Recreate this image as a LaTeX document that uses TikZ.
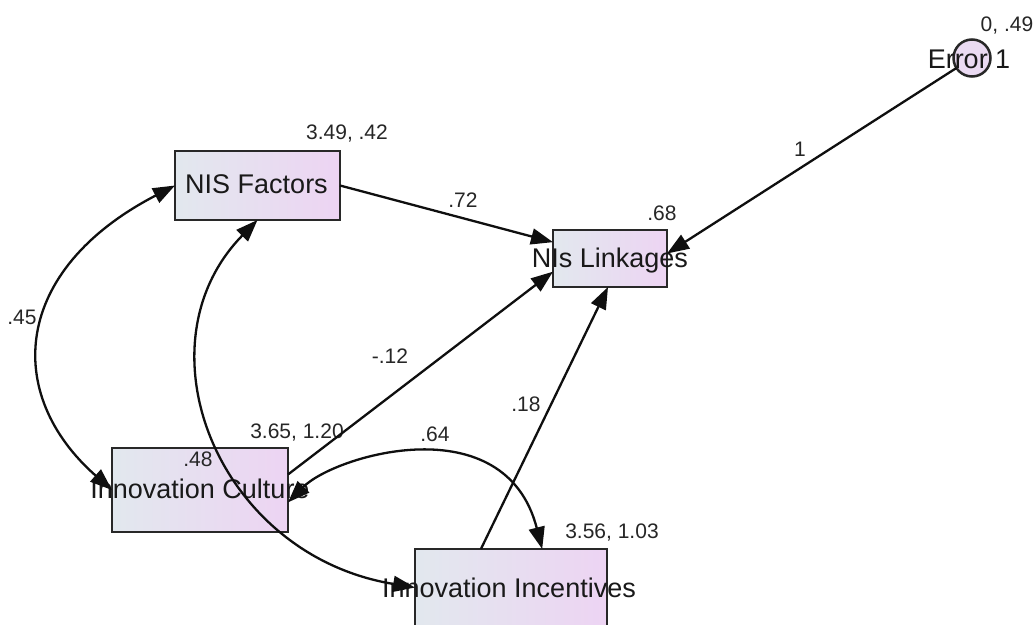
\documentclass[tikz,border=0pt]{standalone}
\usepackage{fontspec}
\setmainfont{Liberation Sans}
\usetikzlibrary{arrows.meta}
\definecolor{boxleft}{RGB}{226,232,238}
\definecolor{boxright}{RGB}{237,212,243}
\definecolor{errfill}{RGB}{234,218,242}
\definecolor{edgeline}{RGB}{15,15,15}
\definecolor{boxline}{RGB}{40,40,40}

\begin{document}
\begin{tikzpicture}[x=1pt,y=-1pt,
  obsbox/.style={draw=boxline, line width=2.5pt, left color=boxleft, right color=boxright,
    inner sep=0pt, outer sep=0pt},
  errcirc/.style={circle, draw=boxline, line width=2.5pt, fill=errfill,
    minimum size=37pt, inner sep=0pt, outer sep=0pt},
  vartext/.style={font=\fontsize{27}{27}\selectfont, text=black!90, anchor=base, inner sep=0pt},
  estlbl/.style={font=\fontsize{21}{21}\selectfont, text=black!85, anchor=base, inner sep=0pt},
  regr/.style={draw=edgeline, line width=2.3pt, -{Triangle[length=22pt,width=16pt]}},
  covar/.style={draw=edgeline, line width=2.3pt,
    {Triangle[length=22pt,width=16pt]}-{Triangle[length=22pt,width=16pt]}},
]
\fill[white] (0,0) rectangle (1036,624);
\useasboundingbox (0,0) rectangle (1036,624);

% observed variables and the error term
\node[obsbox, minimum width=165pt, minimum height=69pt] (fac)  at (257.5,185.5) {};
\node[obsbox, minimum width=114pt, minimum height=57pt] (link) at (610,258.5) {};
\node[obsbox, minimum width=176pt, minimum height=84pt] (cul)  at (200,490) {};
\node[obsbox, minimum width=192pt, minimum height=77pt] (inc)  at (511,587.5) {};
\node[errcirc] (err) at (972,58) {};

% variable names
\node[vartext] (facT)  at (256.5,193) {NIS Factors};
\node[vartext] (linkT) at (610,267) {NIs Linkages};
\node[vartext] (culT)  at (200,498) {Innovation Culture};
\node[vartext] (incT)  at (509,597) {Innovation Incentives};
\node[vartext] (errT)  at (969,68) {Error 1};

% means, variances and squared multiple correlations
\node[estlbl] (facE)  at (347,139) {3.49, .42};
\node[estlbl] (linkE) at (662,220) {.68};
\node[estlbl] (errE)  at (1007,31) {0, .49};
\node[estlbl] (culE)  at (297,438) {3.65, 1.20};
\node[estlbl] (culR)  at (198,466) {.48};
\node[estlbl] (incE)  at (612,538) {3.56, 1.03};

% regression weights
\draw[regr] (fac.east) -- (link.164);
\draw[regr] (err) -- (link.5);
\draw[regr] (cul.10) -- (link.193);
\draw[regr] (inc.128) -- (link.266);

% covariances
\draw[covar] (cul.-8) .. controls (335,455) and (505,405) .. (inc.51);
\draw[covar] (fac.west) .. controls (12,270) and (3,394) .. (cul.west);
\draw[covar] (fac.south) .. controls (135,345) and (217,555) .. (inc.west);

% path coefficients
\node[estlbl] (w1)  at (463,207) {.72};
\node[estlbl] (w2)  at (800,156) {1};
\node[estlbl] (w3)  at (390,363) {-.12};
\node[estlbl] (w4)  at (526,411) {.18};
\node[estlbl] (c1)  at (22,324)  {.45};
\node[estlbl] (c2)  at (435,441) {.64};
\end{tikzpicture}
\end{document}
